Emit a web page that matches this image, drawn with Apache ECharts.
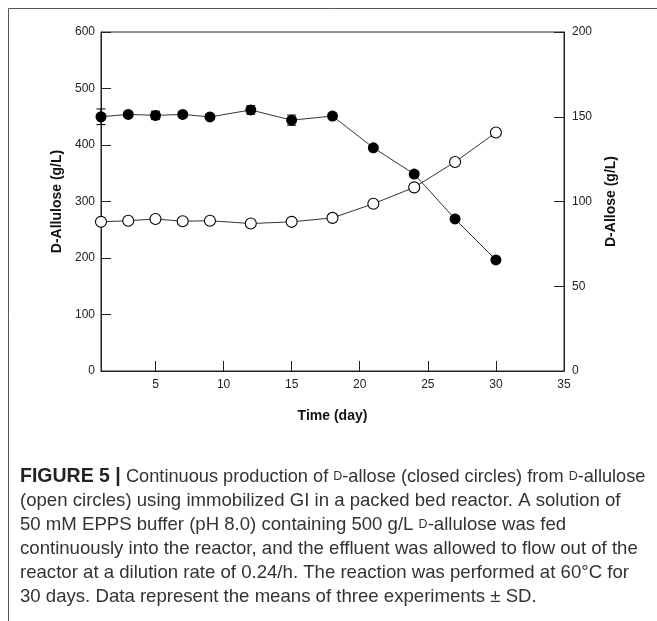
<!DOCTYPE html>
<html>
<head>
<meta charset="utf-8">
<script src="https://cdn.jsdelivr.net/npm/echarts@6/dist/echarts.min.js"></script>
<style>html,body{margin:0;padding:0;background:#fff}#c{width:657px;height:621px}</style>
</head>
<body>
<div id="c"></div>
<script>
var days = [1, 3, 5, 7, 9, 12, 15, 18, 21, 24, 27, 30];
// D-allose (closed circles), right axis, g/L
var alloseValues = [150, 151.4, 150.8, 151.4, 149.9, 154, 148, 150.4, 131.7, 116.2, 89.7, 65.5];
var alloseErr = [4.6, 1.5, 2.5, 1, 1.2, 2.5, 3, 1, 1.2, 1, 1.2, 1.2];
// D-allulose (open circles), left axis, g/L
var alluloseValues = [264, 266, 269, 265, 266, 261, 264, 271, 296, 325, 370, 422];
var alluloseErr = [2, 2, 4, 3, 2, 2, 2, 3, 4, 3, 3, 4];
var xTickLabels = [5, 10, 15, 20, 25, 30, 35];

var chart = echarts.init(document.getElementById('c'), null, {renderer: 'canvas'});
var FONT = '"Liberation Sans", Arial, sans-serif';
var AX = '#222';

function errSeries(name, vals, errs, yIdx) {
  var data = days.map(function (d, i) { return [d, vals[i], errs[i]]; });
  return {
    name: name, type: 'custom', xAxisIndex: 0, yAxisIndex: yIdx, z: 1,
    renderItem: function (params, api) {
      var x = api.value(0), y = api.value(1), e = api.value(2);
      var top = api.coord([x, y + e]);
      var bot = api.coord([x, y - e]);
      var hw = 4.5;
      var st = {stroke: '#000', lineWidth: 1};
      return {type: 'group', children: [
        {type: 'line', shape: {x1: top[0], y1: top[1], x2: bot[0], y2: bot[1]}, style: st},
        {type: 'line', shape: {x1: top[0] - hw, y1: top[1], x2: top[0] + hw, y2: top[1]}, style: st},
        {type: 'line', shape: {x1: bot[0] - hw, y1: bot[1], x2: bot[0] + hw, y2: bot[1]}, style: st}
      ]};
    },
    data: data
  };
}

var CS = 18.6;
function capLine(y, parts) {
  return {type: 'text', left: 20, top: y, style: {
    text: parts, font: CS + 'px ' + FONT, fill: '#333',
    rich: {
      b: {fontFamily: FONT, fontSize: 19.5, fontWeight: 'bold', fill: '#222'},
      sc: {fontFamily: FONT, fontSize: 12.5, fill: '#333'},
      n: {fontFamily: FONT, fontSize: CS, fill: '#333'},
      t: {fontFamily: FONT, fontSize: 18.2, fill: '#333'}
    }
  }};
}

var option = {
  backgroundColor: '#fff',
  animation: false,
  grid: {left: 101, right: 93, top: 32, bottom: 250, show: true, borderColor: AX, borderWidth: 1, backgroundColor: 'transparent'},
  xAxis: {
    type: 'value', min: 1, max: 35,
    name: 'Time (day)', nameLocation: 'middle', nameGap: 38,
    nameTextStyle: {fontFamily: FONT, fontSize: 14, fontWeight: 'bold', color: '#111'},
    axisLine: {lineStyle: {color: AX, width: 1}},
    axisTick: {inside: true, length: 10, lineStyle: {color: AX}, customValues: xTickLabels},
    axisLabel: {fontFamily: FONT, fontSize: 12, color: '#222', margin: 8, customValues: xTickLabels},
    splitLine: {show: false}
  },
  yAxis: [{
    type: 'value', min: 0, max: 600, interval: 100, position: 'left',
    name: 'D-Allulose (g/L)', nameLocation: 'middle', nameGap: 37, nameRotate: 90,
    nameTextStyle: {fontFamily: FONT, fontSize: 14, fontWeight: 'bold', color: '#111'},
    axisLine: {show: true, lineStyle: {color: AX}},
    axisTick: {show: true, inside: true, length: 10, lineStyle: {color: AX}},
    axisLabel: {fontFamily: FONT, fontSize: 12, color: '#222', margin: 6},
    splitLine: {show: false}
  }, {
    type: 'value', min: 0, max: 200, interval: 50, position: 'right',
    name: 'D-Allose (g/L)', nameLocation: 'middle', nameGap: 40, nameRotate: 90,
    nameTextStyle: {fontFamily: FONT, fontSize: 14, fontWeight: 'bold', color: '#111'},
    axisLine: {show: true, lineStyle: {color: AX}},
    axisTick: {show: true, inside: true, length: 10, lineStyle: {color: AX}},
    axisLabel: {fontFamily: FONT, fontSize: 12, color: '#222', margin: 8},
    splitLine: {show: false}
  }],
  series: [
    errSeries('D-allulose SD', alluloseValues, alluloseErr, 0),
    errSeries('D-allose SD', alloseValues, alloseErr, 1),
    {
      name: 'D-allulose', type: 'line', yAxisIndex: 0, z: 3,
      data: days.map(function (d, i) { return [d, alluloseValues[i]]; }),
      symbol: 'circle', symbolSize: 11,
      itemStyle: {color: '#fff', borderColor: '#000', borderWidth: 1.1},
      lineStyle: {color: '#000', width: 0.8}
    },
    {
      name: 'D-allose', type: 'line', yAxisIndex: 1, z: 3,
      data: days.map(function (d, i) { return [d, alloseValues[i]]; }),
      symbol: 'circle', symbolSize: 11,
      itemStyle: {color: '#000', borderColor: '#000', borderWidth: 0},
      lineStyle: {color: '#000', width: 0.8}
    }
  ],
  graphic: [
    {type: 'rect', shape: {x: 8.5, y: 8.5, width: 700, height: 700}, style: {fill: 'none', stroke: '#555', lineWidth: 1}, silent: true},
    capLine(467, '{b|FIGURE 5 |} {t|Continuous production of }{sc|D}{t|-allose (closed circles) from }{sc|D}{t|-allulose}'),
    capLine(491, '(open circles) using immobilized GI in a packed bed reactor. A solution of'),
    capLine(515, '{n|50 mM EPPS buffer (pH 8.0) containing 500 g/L }{sc|D}{n|-allulose was fed}'),
    capLine(539, 'continuously into the reactor, and the effluent was allowed to flow out of the'),
    capLine(563, 'reactor at a dilution rate of 0.24/h. The reaction was performed at 60°C for'),
    capLine(587, '30 days. Data represent the means of three experiments ± SD.')
  ]
};
chart.setOption(option);
</script>
</body>
</html>
